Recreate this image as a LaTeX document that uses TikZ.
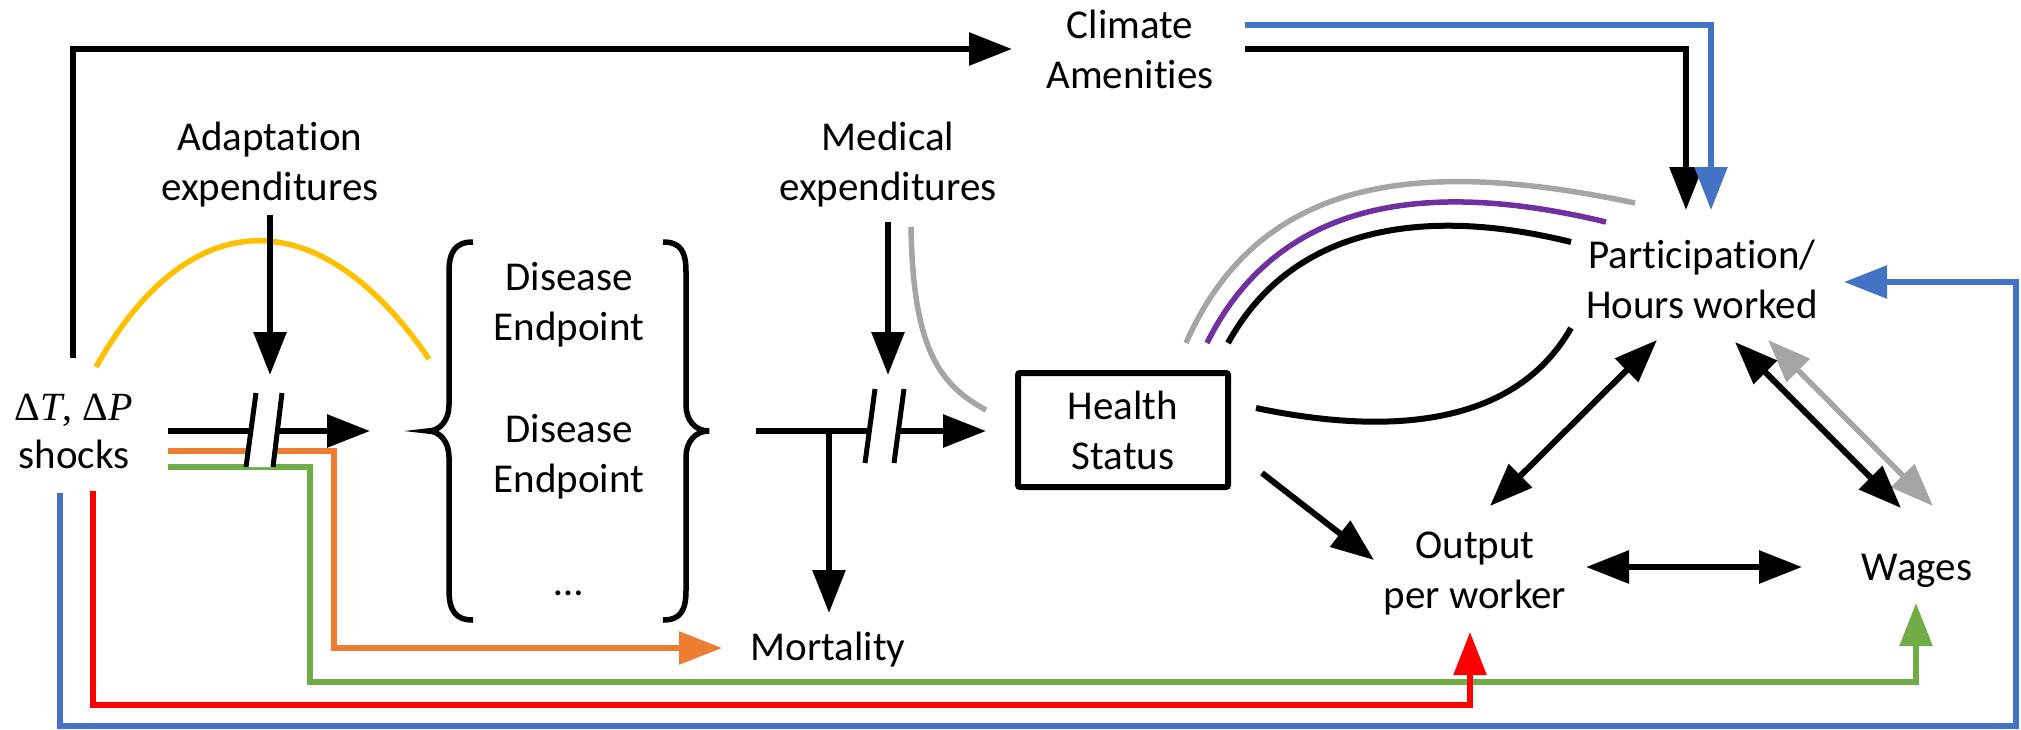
\documentclass[tikz,border=0pt]{standalone}
\usepackage{fontspec}
\setmainfont{Carlito}[Ligatures=NoCommon]
\newfontfamily\mathserif{Liberation Serif}
\usetikzlibrary{arrows.meta}
\definecolor{cblue}{HTML}{4472C4}
\definecolor{corange}{HTML}{ED7D31}
\definecolor{cgreen}{HTML}{70AD47}
\definecolor{cred}{HTML}{FF0000}
\definecolor{cgray}{HTML}{A5A5A5}
\definecolor{cpurple}{HTML}{7030A0}
\definecolor{cyellow}{HTML}{FFC000}
\begin{document}
\begin{tikzpicture}[x=1pt,y=-1pt,
  lbl/.style={font=\fontsize{41}{50}\selectfont, align=center, inner sep=0pt, anchor=base},
  blk/.style={line width=6pt, black},
  col/.style={line width=5.5pt},
  tip/.style={-{Triangle[length=43pt,width=32pt]}},
  dtip/.style={{Triangle[length=43pt,width=32pt]}-{Triangle[length=43pt,width=32pt]}},
  brk/.style={line width=5pt, black},
  brace/.style={line width=5.5pt, black},
]
\useasboundingbox (0,0) rectangle (2021,729);

% ---------- text nodes (anchor = baseline of last line)
\node[lbl, font=\fontsize{41}{48}\selectfont] (shocks) at (74,468) {{\mathserif\fontsize{40}{48}\selectfont Δ\textit{T}, Δ\textit{P}}\\shocks};
\node[lbl] (adapt) at (270,200) {Adaptation\\expenditures};
\node[lbl] (climate) at (1130,88) {Climate\\Amenities};
\node[lbl] (medical) at (888,200) {Medical\\expenditures};
\node[lbl] (dis1) at (569,340) {Disease\\Endpoint};
\node[lbl] (dis2) at (569,492) {Disease\\Endpoint};
\node[lbl] (dots) at (569,595) {…};
\node[lbl] (mort) at (828,660) {Mortality};
\node[draw, line width=6pt, minimum width=210pt, minimum height=114pt,
      font=\fontsize{41}{50}\selectfont, align=center, rounded corners=2pt] (health) at (1123,430) {Health\\Status};
\node[lbl] (part) at (1702,318) {Participation/\\Hours worked};
\node[lbl] (output) at (1475,608) {Output\\per worker};
\node[lbl] (wages) at (1917,580) {Wages};

% ---------- connector end points
\coordinate (shk-up) at (73,358);
\coordinate (clim-in) at (1012,49);
\coordinate (clim-k) at (1245,49);
\coordinate (clim-b) at (1245,25);
\coordinate (part-k) at (1686,210);
\coordinate (part-b) at (1711,210);
\coordinate (adapt-out) at (270,215);
\coordinate (adapt-in) at (270,375);
\coordinate (shk-k) at (168,431);
\coordinate (bra-in) at (370,431);
\coordinate (shk-o) at (168,451);
\coordinate (shk-g) at (168,467);
\coordinate (shk-r) at (93,491);
\coordinate (shk-b) at (60,493);
\coordinate (mort-o) at (722,648);
\coordinate (wag-g) at (1916,603);
\coordinate (out-r) at (1470,632);
\coordinate (part-bl) at (1844,282);
\coordinate (bra-out) at (756,431);
\coordinate (hs-in) at (986,431);
\coordinate (tj) at (829,431);
\coordinate (mort-in) at (829,613);
\coordinate (med-out) at (888,222);
\coordinate (med-in) at (888,375);
\coordinate (hs-r) at (1256,408);
\coordinate (part-c) at (1571,328);
\coordinate (hs-d) at (1262,473);
\coordinate (out-in) at (1374,560);
\coordinate (out-ne) at (1490,506);
\coordinate (part-sw) at (1657,340);
\coordinate (part-se) at (1735,342);
\coordinate (wag-nw) at (1901,508);
\coordinate (part-se2) at (1768,340);
\coordinate (wag-nw2) at (1933,506);
\coordinate (out-e) at (1586,567);
\coordinate (wag-w) at (1802,567);

% ---------- connectors
\draw[blk,tip] (shk-up) |- (clim-in);
\draw[blk,tip] (clim-k) -| (part-k);
\draw[col,cblue,tip] (clim-b) -| (part-b);

\draw[col,cyellow] (96,367) .. controls (190,200) and (320,200) .. (429,359);
\draw[blk,tip] (adapt-out) -- (adapt-in);

\draw[blk,tip] (shk-k) -- (bra-in);
\draw[col,corange,tip] (shk-o) -| (334,648) -- (mort-o);
\draw[col,cgreen,tip] (shk-g) -| (310,682) -| (wag-g);
\draw[col,cred,tip] (shk-r) |- (1470,705) -- (out-r);
\draw[col,cblue,tip] (shk-b) |- (2016,726) -- (2016,282) -- (part-bl);

% break mark 1
\fill[white] (256,393) -- (282,393) -- (273,467) -- (246,467) -- cycle;
\draw[brk] (256,393) -- (246,467);
\draw[brk] (282,393) -- (273,467);

% braces
\draw[brace] (473,242) .. controls (455,242) and (449,252) .. (449,272) -- (449,405)
  .. controls (449,420) and (440,431) .. (428,431)
  .. controls (440,431) and (449,442) .. (449,457) -- (449,590)
  .. controls (449,610) and (455,620) .. (473,620);
\draw[brace] (663,242) .. controls (681,242) and (686,252) .. (686,272) -- (686,405)
  .. controls (686,420) and (695,431) .. (709,431)
  .. controls (695,431) and (686,442) .. (686,457) -- (686,590)
  .. controls (686,610) and (681,620) .. (663,620);

\draw[blk,tip] (bra-out) -- (hs-in);
\draw[blk,tip] (tj) -- (mort-in);
% break mark 2
\fill[white] (875,389) -- (904,389) -- (894,463) -- (865,463) -- cycle;
\draw[brk] (875,389) -- (865,463);
\draw[brk] (904,389) -- (894,463);

\draw[blk,tip] (med-out) -- (med-in);
\draw[col,cgray] (911,227) .. controls (913,350) and (940,385) .. (986,410);

% curves from health status to participation
\draw[col,cgray] (1186,343) .. controls (1262,170) and (1430,160) .. (1635,203);
\draw[col,cpurple] (1207,343) .. controls (1282,192) and (1440,182) .. (1606,222);
\draw[blk] (1228,343) .. controls (1300,212) and (1450,212) .. (1571,242);
\draw[blk] (hs-r) .. controls (1370,432) and (1510,435) .. (part-c);

\draw[blk,tip] (hs-d) -- (out-in);
\draw[blk,dtip] (out-ne) -- (part-sw);
\draw[col,cgray,dtip] (part-se2) -- (wag-nw2);
\draw[blk,dtip] (part-se) -- (wag-nw);
\draw[blk,dtip] (out-e) -- (wag-w);
\end{tikzpicture}
\end{document}
